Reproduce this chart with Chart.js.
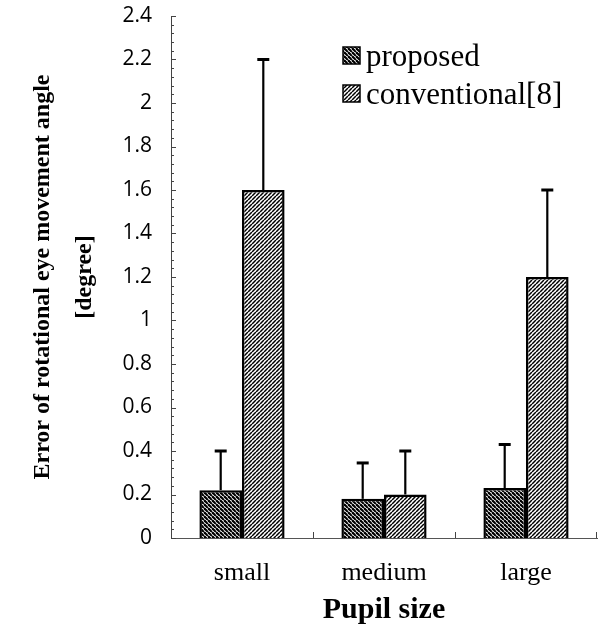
<!DOCTYPE html>
<html>
<head>
<meta charset="utf-8">
<script src="https://cdn.jsdelivr.net/npm/chart.js@4/dist/chart.umd.min.js"></script>
<style>
  html, body { margin: 0; padding: 0; background: #fff; }
  #wrap { width: 601px; height: 630px; }
</style>
</head>
<body>
<div id="wrap"><canvas id="errChart" width="601" height="630"></canvas></div>
<script>
// ─────────────────────────────────────────────────────────────
// DATA
// ─────────────────────────────────────────────────────────────
const categories = ['small', 'medium', 'large'];
const seriesNames = ['proposed', 'conventional[8]'];
const proposedMean = [0.22, 0.18, 0.23];
const proposedErr = [0.18, 0.165, 0.20];
const conventionalMean = [1.6, 0.2, 1.2];
const conventionalErr = [0.6, 0.2, 0.4];
const yTicks = [0, 0.2, 0.4, 0.6, 0.8, 1, 1.2, 1.4, 1.6, 1.8, 2, 2.2, 2.4];

const SERIF = '"Liberation Serif", "Times New Roman", serif';

// hatch patterns
function hatch(dir, size, width) {
  const c = document.createElement('canvas');
  c.width = size; c.height = size;
  const cx = c.getContext('2d');
  cx.fillStyle = '#fff';
  cx.fillRect(0, 0, size, size);
  cx.strokeStyle = '#000';
  cx.lineWidth = width;
  for (let k = -1; k <= 1; k++) {
    cx.beginPath();
    if (dir === 'back') { cx.moveTo(k * size, 0); cx.lineTo(k * size + size, size); }
    else { cx.moveTo(k * size, size); cx.lineTo(k * size + size, 0); }
    cx.stroke();
  }
  return document.getElementById('errChart').getContext('2d').createPattern(c, 'repeat');
}
const darkHatch = hatch('back', 4, 2.2);
const lightHatch = hatch('fwd', 4, 1.5);

// error bars (upper only, with cap)
const errorBars = {
  id: 'errorBars',
  afterDatasetsDraw(chart) {
    const { ctx, scales: { y } } = chart;
    const errs = [proposedErr, conventionalErr];
    chart.data.datasets.forEach((ds, di) => {
      const meta = chart.getDatasetMeta(di);
      meta.data.forEach((bar, i) => {
        const top = y.getPixelForValue(ds.data[i] + errs[di][i]);
        ctx.save();
        ctx.strokeStyle = '#000';
        ctx.lineWidth = 2.2;
        ctx.beginPath();
        ctx.moveTo(bar.x, bar.y);
        ctx.lineTo(bar.x, top);
        ctx.stroke();
        ctx.lineWidth = 3;
        ctx.beginPath();
        ctx.moveTo(bar.x - 6, top);
        ctx.lineTo(bar.x + 6, top);
        ctx.stroke();
        ctx.restore();
      });
    });
  }
};

// inner tick marks on both axes
const innerTicks = {
  id: 'innerTicks',
  afterDraw(chart) {
    const { ctx, chartArea: a, scales: { x, y } } = chart;
    ctx.save();
    ctx.strokeStyle = '#444';
    ctx.lineWidth = 1;
    for (let k = 0; k <= 60; k++) {
      const v = k * 0.04;
      const py = Math.round(y.getPixelForValue(v)) + 0.5;
      const len = k % 5 === 0 ? 5 : 3;
      ctx.beginPath();
      ctx.moveTo(a.left, py);
      ctx.lineTo(a.left + len, py);
      ctx.stroke();
    }
    for (let i = 0; i < categories.length; i++) {
      const px = i < categories.length - 1
        ? Math.round((x.getPixelForValue(i) + x.getPixelForValue(i + 1)) / 2) + 0.5
        : a.right - 0.5;
      ctx.beginPath();
      ctx.moveTo(px, a.bottom);
      ctx.lineTo(px, a.bottom - 6);
      ctx.stroke();
    }
    ctx.restore();
  }
};

// legend inside the plot, top right
const boxLegend = {
  id: 'boxLegend',
  afterDraw(chart) {
    const { ctx } = chart;
    const rows = [47, 85];
    ctx.save();
    chart.data.datasets.forEach((ds, i) => {
      const by = rows[i];
      ctx.fillStyle = ds.backgroundColor;
      ctx.fillRect(343, by, 17, 17);
      ctx.strokeStyle = '#000';
      ctx.lineWidth = 1.5;
      ctx.strokeRect(343, by, 17, 17);
      ctx.fillStyle = '#000';
      ctx.font = '31px ' + SERIF;
      ctx.textBaseline = 'alphabetic';
      ctx.fillText(ds.label, 366, by + 19);
    });
    ctx.restore();
  }
};

new Chart(document.getElementById('errChart'), {
  type: 'bar',
  data: {
    labels: categories,
    datasets: [
      { label: seriesNames[0], data: proposedMean, backgroundColor: darkHatch, borderColor: '#000', borderWidth: 2.5, borderSkipped: 'bottom' },
      { label: seriesNames[1], data: conventionalMean, backgroundColor: lightHatch, borderColor: '#000', borderWidth: 2.5, borderSkipped: 'bottom' }
    ]
  },
  plugins: [errorBars, innerTicks, boxLegend],
  options: {
    responsive: false,
    animation: false,
    devicePixelRatio: 1,
    layout: { padding: { top: 16, right: 4, left: 0, bottom: 0 } },
    datasets: { bar: { categoryPercentage: 0.6, barPercentage: 1.0 } },
    plugins: { legend: { display: false }, tooltip: { enabled: false } },
    scales: {
      x: {
        grid: { display: false, drawTicks: false },
        border: { display: true, color: '#555', width: 1 },
        ticks: { color: '#000', font: { family: SERIF, size: 26 }, padding: 20 },
        title: { display: true, text: 'Pupil size', color: '#000', font: { family: SERIF, size: 30, weight: 'bold' }, padding: { top: 0, bottom: 2 } },
        afterFit: s => { s.height = 92; s.paddingLeft = 0; s.paddingRight = 0; }
      },
      y: {
        min: 0, max: 2.4,
        afterBuildTicks: s => { s.ticks = yTicks.map(v => ({ value: v })); },
        grid: { display: false, drawTicks: false },
        border: { display: true, color: '#444', width: 1 },
        ticks: { color: '#000', font: { family: '"Open Sans", sans-serif', size: 21 }, padding: 19, callback: v => String(Math.round(v * 10) / 10) },
        title: {
          display: true,
          text: ['Error of rotational eye movement angle', '[degree]'],
          color: '#000',
          font: { family: SERIF, size: 24, weight: 'bold', lineHeight: 1.75 },
          padding: { top: 22, bottom: 0 }
        },
        afterFit: s => { s.width = 171; s.paddingTop = 0; s.paddingBottom = 0; }
      }
    }
  }
});
</script>
</body>
</html>
